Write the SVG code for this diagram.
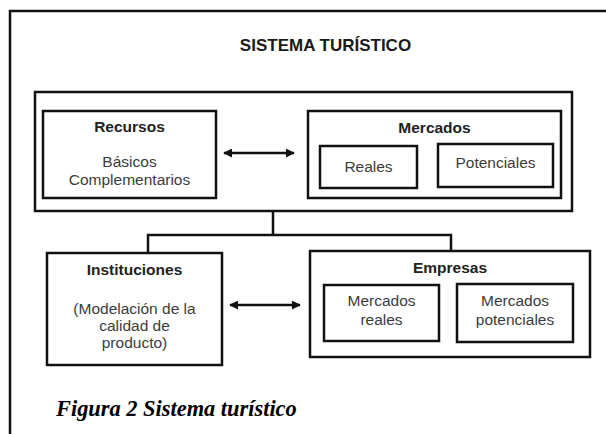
<svg xmlns="http://www.w3.org/2000/svg" width="606" height="434" viewBox="0 0 606 434">
  <defs>
    <style>
      .box { fill: #ffffff; stroke: #111111; stroke-width: 2.5; }
      .frame { fill: none; stroke: #111111; stroke-width: 2.5; }
      .conn { fill: none; stroke: #111111; stroke-width: 2.5; }
      .title { font-family: "Liberation Sans", Arial, sans-serif; font-weight: bold; font-size: 17px; fill: #1a1a1a; text-anchor: middle; }
      .head { font-family: "Liberation Sans", Arial, sans-serif; font-weight: bold; font-size: 15.5px; fill: #222222; text-anchor: middle; }
      .body { font-family: "Liberation Sans", Arial, sans-serif; font-size: 15.5px; fill: #3c3c3c; text-anchor: middle; }
      .caption { font-family: "Liberation Serif", "Times New Roman", serif; font-weight: bold; font-style: italic; font-size: 22.4px; fill: #000000; }
    </style>
    <marker id="ah" viewBox="0 0 10 10" refX="9" refY="5" markerWidth="9" markerHeight="9" markerUnits="userSpaceOnUse" orient="auto-start-reverse">
      <path d="M0,0 L10,5 L0,10 z" fill="#111111"/>
    </marker>
  </defs>
  <rect width="606" height="434" fill="#ffffff"/>

  <g id="frame">
    <polyline class="frame" points="10,434 10,11 606,11"/>
  </g>

  <text class="title" x="325.5" y="51">SISTEMA TURÍSTICO</text>

  <g id="sistema">
    <rect class="box" x="35" y="92" width="537" height="119"/>
  </g>

  <g id="recursos">
    <rect class="box" x="43" y="111" width="173" height="87"/>
    <text class="head" x="129.5" y="132">Recursos</text>
    <text class="body" x="129.5" y="167">Básicos</text>
    <text class="body" x="129.5" y="185">Complementarios</text>
  </g>

  <g id="mercados">
    <rect class="box" x="308" y="111" width="253" height="87"/>
    <text class="head" x="434.5" y="133">Mercados</text>
  </g>

  <g id="reales">
    <rect class="box" x="320" y="146" width="97" height="42"/>
    <text class="body" x="368.5" y="172">Reales</text>
  </g>

  <g id="potenciales">
    <rect class="box" x="438" y="144" width="115" height="43"/>
    <text class="body" x="495.5" y="168">Potenciales</text>
  </g>

  <g id="instituciones">
    <rect class="box" x="47" y="253" width="175" height="112"/>
    <text class="head" x="134.5" y="275">Instituciones</text>
    <text class="body" x="134.5" y="314">(Modelación de la</text>
    <text class="body" x="134.5" y="331">calidad de</text>
    <text class="body" x="134.5" y="348">producto)</text>
  </g>

  <g id="empresas">
    <rect class="box" x="310" y="251" width="280" height="106"/>
    <text class="head" x="450" y="273">Empresas</text>
  </g>

  <g id="mercados-reales">
    <rect class="box" x="324" y="285" width="115" height="56"/>
    <text class="body" x="381.5" y="306">Mercados</text>
    <text class="body" x="381.5" y="325">reales</text>
  </g>

  <g id="mercados-potenciales">
    <rect class="box" x="457" y="284" width="116" height="58"/>
    <text class="body" x="515" y="306">Mercados</text>
    <text class="body" x="515" y="325">potenciales</text>
  </g>

  <g id="connectors">
    <polyline class="conn" points="273,212 273,235"/>
    <polyline class="conn" points="148,252 148,235 451,235 451,250"/>
    <line class="conn" x1="224" y1="153" x2="294" y2="153" marker-start="url(#ah)" marker-end="url(#ah)"/>
    <line class="conn" x1="230" y1="305" x2="300" y2="305" marker-start="url(#ah)" marker-end="url(#ah)"/>
  </g>

  <text class="caption" x="56" y="416">Figura 2 Sistema turístico</text>
</svg>
